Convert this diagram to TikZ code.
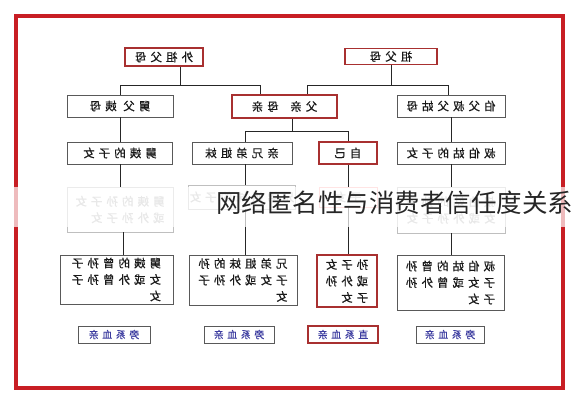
\documentclass[tikz,border=0pt]{standalone}
\usepackage{fontspec}
\newfontfamily\cjk[LetterSpace=35, FakeBold=0.5]{Noto Sans CJK SC}
\newfontfamily\cjkmark{Noto Sans CJK SC}
\definecolor{framered}{RGB}{200,30,36}
\definecolor{boxred}{RGB}{168,48,48}
\definecolor{labblue}{RGB}{60,60,160}
\tikzset{
  kin/.style={draw=black!65, line width=0.9pt, fill=white, xscale=-1, inner sep=1pt,
    align=left, text=black!90, font=\cjk\fontsize{11.5}{16.5}\selectfont},
  kinred/.style={kin, draw=boxred, line width=1.8pt},
  faded/.style={kin, draw=black!25, text=black!30},
  fadedred/.style={faded, draw=red!35},
  sortlab/.style={kin, text=labblue, font=\cjk\fontsize{10}{12}\selectfont},
  sortlabred/.style={sortlab, draw=boxred, line width=1.8pt},
  tie/.style={line width=0.9pt, black!85}
}
\begin{document}
\begin{tikzpicture}[x=1pt,y=-1pt]
\useasboundingbox (0,0) rectangle (574,400);
\fill[white] (0,0) rectangle (574,400);
\draw[framered, line width=4pt] (16,16) rectangle (563,388);

% grandparents and parents
\node[kinred, minimum width=78, minimum height=18] (wzfm) at (164,57) {外祖父母};
\node[kinred, minimum width=92, minimum height=16] (zfm) at (391,56.5) {祖父母};
\node[kin, minimum width=106, minimum height=22] (jfym) at (120,106) {舅父\ 姨母};
\node[kinred, minimum width=105, minimum height=23] (fqmq) at (284.5,106.5) {父亲\quad 母亲};
\node[kin, minimum width=108, minimum height=22] (bfsf) at (451,106) {伯父叔父姑母};

% own generation
\node[kin, minimum width=105, minimum height=22] (jyzn) at (120,153) {舅姨的子女};
\node[kin, minimum width=100, minimum height=22] (xdjm) at (242,153) {亲兄弟姐妹};
\node[kinred, minimum width=58, minimum height=22] (zj) at (348,153) {自己};
\node[kin, minimum width=108, minimum height=22] (bgzn) at (451,153) {叔伯姑的子女};

% children
\node[faded, minimum width=106, minimum height=45] (jysz) at (120,209.5) {舅姨的孙子女\\或外孙子女};
\node[faded, minimum width=100, minimum height=24] (xdsz) at (242,197) {兄弟姐妹的子女};
\node[fadedred, minimum width=58, minimum height=20] (zjsz) at (348,197) {子女};
\node[faded, minimum width=108, minimum height=46] (bgsz) at (451,210) {叔伯姑的孙子\\女或外孙子女};

% grandchildren
\node[kin, minimum width=113, minimum height=49] (jyzs) at (116.5,279.5) {舅姨的曾孙子\\女或外曾孙子\\女};
\node[kin, minimum width=108, minimum height=50] (xdss) at (243,280) {兄弟姐妹的孙\\子女或外孙子\\女};
\node[kinred, minimum width=60, minimum height=52] (zjss) at (347,281) {孙子女\\或外孙\\子女};
\node[kin, minimum width=107, minimum height=55] (bgzs) at (450.5,282.5) {叔伯姑的曾孙\\子女或曾外孙\\子女};

\node[sortlab, minimum width=72, minimum height=17] (lab1) at (114,334.5) {旁系血亲};
\node[sortlab, minimum width=70, minimum height=17] (lab2) at (239,334.5) {旁系血亲};
\node[sortlabred, minimum width=70, minimum height=17] (lab3) at (343,334.5) {直系血亲};
\node[sortlab, minimum width=68, minimum height=17] (lab4) at (450,334.5) {旁系血亲};

% lines
\draw[tie] ([xshift=16pt]wzfm.south) -- ++(0,19) -| (jfym.north);
\draw[tie] ([xshift=16pt]wzfm.south) ++(0,19) -| ([xshift=-24.5pt]fqmq.north);
\draw[tie] (zfm.south) -- ++(0,20.5) -| ([xshift=22.5pt]fqmq.north);
\draw[tie] (zfm.south) ++(0,20.5) -| ([xshift=-3pt]bfsf.north);
\draw[tie] ([xshift=7.5pt]fqmq.south) -- ++(0,13) -| ([xshift=3pt]xdjm.north);
\draw[tie] ([xshift=7.5pt]fqmq.south) ++(0,13) -| (zj.north);
\draw[tie] (jfym.south) -- (jyzn.north);
\draw[tie] (bfsf.south) -- (bgzn.north);
\draw[tie] (jyzn.south) -- (jysz.north);
\draw[tie] ([xshift=3pt]xdjm.south) -- ([xshift=3pt]xdsz.north);
\draw[tie] (zj.south) -- (zjsz.north);
\draw[tie] (bgzn.south) -- (bgsz.north);
\draw[tie] ([xshift=3pt]jysz.south) -- ([xshift=3pt]jysz.south |- jyzs.north);
\draw[tie] ([xshift=3pt]xdsz.south) -- ([xshift=3pt]xdsz.south |- xdss.north);
\draw[tie] (zjsz.south) -- (zjsz.south |- zjss.north);
\draw[tie] (bgsz.south) -- (bgsz.south |- bgzs.north);

% watermark band
\fill[white, opacity=0.7] (0,187) rectangle (574,227);
\node[anchor=west, inner sep=0pt, text=black!85, font=\cjkmark\fontsize{25.5}{26}\selectfont] (mark) at (216,203) {网络匿名性与消费者信任度关系};
\end{tikzpicture}
\end{document}
